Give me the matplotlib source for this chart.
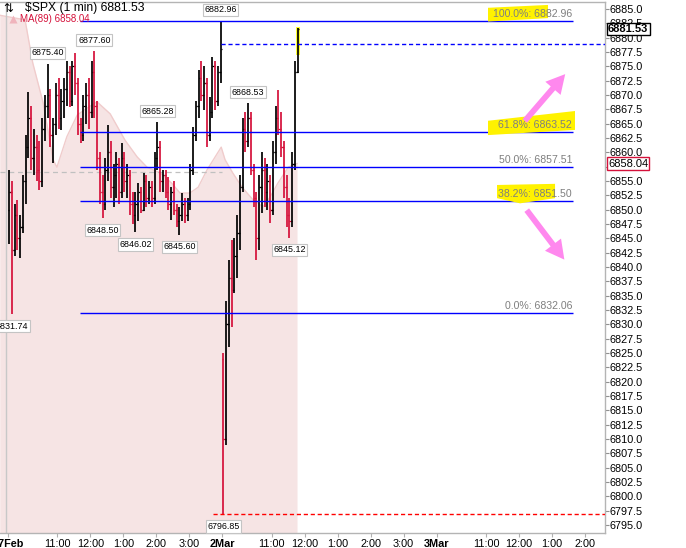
import matplotlib
matplotlib.use("Agg")
import matplotlib.pyplot as plt
import matplotlib.transforms as mtransforms
import pandas as pd
from matplotlib.patches import Rectangle, FancyArrowPatch

plt.rcParams['font.family'] = ['Liberation Sans', 'DejaVu Sans']

# ---------------- data (5-minute OHLC) ----------------
feb27_open = [6850, 6853, 6843, 6849, 6845, 6847, 6855, 6861, 6866, 6859,
              6861, 6857, 6855, 6864, 6868, 6870, 6863, 6865, 6870, 6866,
              6869, 6871, 6874, 6869, 6875, 6872, 6865, 6863, 6868, 6870,
              6867, 6874, 6868, 6859, 6853, 6851, 6857, 6860, 6854, 6856,
              6858, 6853, 6859, 6855, 6856, 6851, 6849, 6851, 6853, 6850,
              6855, 6852, 6854, 6852, 6859, 6861, 6855, 6856, 6853, 6851,
              6853, 6850, 6848, 6849, 6851, 6849, 6851, 6857, 6863, 6868,
              6873, 6870, 6872, 6863, 6867, 6875, 6869, 6874]
feb27_high = [6857, 6855, 6851, 6851.7, 6849, 6856, 6863, 6870.5, 6868, 6864,
              6863, 6862, 6866, 6870, 6875.40, 6871, 6866, 6872, 6873, 6871,
              6873, 6876, 6875, 6876, 6877.3, 6873, 6866, 6870, 6872, 6873,
              6876, 6877.60, 6869, 6860, 6856, 6859, 6864.8, 6862, 6858, 6860,
              6859, 6861.6, 6860, 6858, 6857, 6853, 6853, 6854.6, 6854, 6856.4,
              6856, 6855, 6855, 6860, 6865.28, 6862, 6857, 6857, 6855.7, 6854,
              6855, 6851, 6850.5, 6852.9, 6852, 6852, 6858, 6864.4, 6869, 6874.4,
              6876, 6875, 6873, 6869.6, 6876.6, 6876, 6875, 6882.96]
feb27_low = [6844, 6831.74, 6842, 6843, 6841.5, 6846, 6851, 6859, 6857, 6856,
             6855, 6853.4, 6854, 6862, 6866, 6861, 6858.1, 6863, 6864, 6863.9,
             6866, 6868, 6867.9, 6868, 6870, 6863, 6861.6, 6862, 6865, 6864,
             6866, 6866, 6857, 6851, 6848.50, 6850, 6855, 6852, 6850.5, 6852,
             6851, 6852, 6853, 6852, 6849, 6847.5, 6846.02, 6848, 6849.4, 6849.8,
             6850.5, 6851, 6850.5, 6851, 6857, 6853, 6853, 6852, 6850, 6848.2,
             6849, 6847, 6845.60, 6848, 6847.7, 6848, 6850, 6856, 6862, 6866,
             6869, 6867.4, 6861, 6862, 6866, 6867.4, 6868, 6872]
feb27_close = [6853, 6843, 6849, 6845, 6847, 6855, 6861, 6866, 6859, 6861,
               6857, 6855, 6864, 6868, 6870, 6863, 6865, 6870, 6866, 6869,
               6871, 6874, 6869, 6875, 6872, 6865, 6863, 6868, 6870, 6867,
               6874, 6868, 6859, 6853, 6851, 6857, 6860, 6854, 6856, 6858,
               6853, 6859, 6855, 6856, 6851, 6849, 6851, 6853, 6850, 6855,
               6852, 6854, 6852, 6859, 6861, 6855, 6856, 6853, 6851, 6853,
               6850, 6848, 6849, 6851, 6849, 6851, 6857, 6863, 6868, 6873,
               6870, 6872, 6863, 6867, 6875, 6869, 6874, 6878]

mar02_open = [6824, 6810, 6830, 6838, 6836, 6842, 6846, 6854, 6864, 6862,
              6866, 6857, 6852, 6845, 6854, 6857, 6853, 6855, 6850, 6860,
              6866, 6864, 6861, 6854, 6849, 6848, 6858, 6874]
mar02_high = [6825, 6834, 6841.2, 6844.7, 6845, 6849, 6856, 6866, 6867, 6868.53,
              6867, 6858, 6853, 6856, 6860, 6859, 6858, 6856, 6862, 6868,
              6870.9, 6867, 6862, 6856, 6852, 6860, 6876, 6881.6]
mar02_low = [6796.85, 6809, 6826, 6829.5, 6835.5, 6838, 6843, 6853, 6860, 6861,
             6856, 6850.5, 6841.2, 6843, 6849.4, 6850.5, 6850, 6847.7, 6849, 6858,
             6863, 6859.2, 6852, 6847, 6845.12, 6847, 6857, 6873.8]
mar02_close = [6810, 6830, 6838, 6836, 6842, 6846, 6854, 6864, 6862, 6866,
               6857, 6852, 6845, 6854, 6857, 6853, 6855, 6850, 6860, 6866,
               6864, 6861, 6854, 6849, 6848, 6858, 6874, 6881.53]

# MA(89) outline
ma_times = ["2026-02-27 09:15", "2026-02-27 10:01", "2026-02-27 10:15", "2026-02-27 10:34",
            "2026-02-27 10:52", "2026-02-27 10:59", "2026-02-27 11:17", "2026-02-27 11:36",
            "2026-02-27 11:54", "2026-02-27 12:12", "2026-02-27 12:36", "2026-02-27 13:03",
            "2026-02-27 13:25", "2026-02-27 13:43", "2026-02-27 14:07", "2026-02-27 14:28",
            "2026-02-27 14:43", "2026-02-27 15:01", "2026-02-27 15:16", "2026-02-27 15:32",
            "2026-02-27 15:47", "2026-02-27 15:58", "2026-03-02 09:35", "2026-03-02 09:49",
            "2026-03-02 10:06", "2026-03-02 10:26", "2026-03-02 10:44", "2026-03-02 10:57",
            "2026-03-02 11:11", "2026-03-02 11:30", "2026-03-02 11:46"]
ma_values = [6883.9, 6883.1, 6875.6, 6868.6, 6858.7, 6857.4, 6862.7, 6866.5,
             6867.7, 6868.8, 6866.7, 6862.1, 6859.2, 6857.4, 6856.4, 6854.6,
             6852.9, 6852.9, 6853.9, 6856.9, 6859.2, 6860.9, 6858.7, 6856.4,
             6853.9, 6851.7, 6850.5, 6852.2, 6854.6, 6857.4, 6858.04]

fib_pcts = [100.0, 61.8, 50.0, 38.2, 0.0]
fib_vals = [6882.96, 6863.52, 6857.51, 6851.50, 6832.06]

last_price = 6881.53
ma_last = 6858.04
prev_close_level = 6856.57
blue_dash_level = 6878.9
low_dash_level = 6796.85

high_labels = [6875.40, 6877.60, 6882.96, 6865.28, 6868.53]
low_labels = [6831.74, 6848.50, 6846.02, 6845.60, 6845.12, 6796.85]

tick_labels = ["27Feb", "11:00", "12:00", "1:00", "2:00", "3:00",
               "2Mar", "11:00", "12:00", "1:00", "2:00", "3:00",
               "3Mar", "11:00", "12:00", "1:00", "2:00"]
tick_times = ["2026-02-27 09:30", "2026-02-27 11:00", "2026-02-27 12:00", "2026-02-27 13:00",
              "2026-02-27 14:00", "2026-02-27 15:00", "2026-03-02 09:30", "2026-03-02 11:00",
              "2026-03-02 12:00", "2026-03-02 13:00", "2026-03-02 14:00", "2026-03-02 15:00",
              "2026-03-03 09:30", "2026-03-03 11:00", "2026-03-03 12:00", "2026-03-03 13:00",
              "2026-03-03 14:00"]

# ---------------- trading-time axis ----------------
DAYS = {"2026-02-27": 0, "2026-03-02": 1, "2026-03-03": 2}


def tm(s):
    ts = pd.Timestamp(s)
    d = DAYS[ts.strftime("%Y-%m-%d")]
    return d * 390 + (ts.hour * 60 + ts.minute - 570)


feb27_t = [tm(t) + 2 for t in pd.date_range("2026-02-27 09:30", periods=len(feb27_open), freq="5min")]
mar02_t = [tm(t) + 2 for t in pd.date_range("2026-03-02 09:30", periods=len(mar02_open), freq="5min")]

T = feb27_t + mar02_t
O = feb27_open + mar02_open
H = feb27_high + mar02_high
L = feb27_low + mar02_low
C = feb27_close + mar02_close

UP = "#000000"
DN = "#d5113a"

fig = plt.figure(figsize=(6.86, 5.48), dpi=100)
ax = fig.add_axes([0, 15 / 548, 605 / 686, 531 / 548])
X0, X1 = -14.56, 1086.4
Y0, Y1 = 6793.61, 6886.21
ax.set_xlim(X0, X1)
ax.set_ylim(Y0, Y1)

# MA(89) shaded area
ma_x = [tm(t) for t in ma_times]
ax.fill_between(ma_x, ma_values, Y0, color="#f6e4e4", lw=0, zorder=0)
ax.plot(ma_x, ma_values, color="#f0cccc", lw=1, zorder=0.5)

# day separator at left
ax.axvline(-3.6, color="#c8c8c8", lw=1, zorder=0.6)

# previous close dashed line
ax.hlines(prev_close_level, X0, tm("2026-03-02 09:30"), colors="#c0c0c0",
          linestyles=(0, (4, 3)), lw=0.9, zorder=0.7)

# current bar highlight
ax.add_patch(Rectangle((T[-1] - 2.5, 6876.9), 7.0, 4.9, color="#ffff30", lw=0, zorder=2.5))

# OHLC bars
hw = 2.6
for t, o, h, l, c in zip(T, O, H, L, C):
    col = UP if c >= o else DN
    ax.vlines(t, l, h, colors=col, lw=1.25, zorder=3)
    ax.hlines(o, t - hw, t, colors=col, lw=0.9, zorder=3)
    ax.hlines(c, t, t + hw, colors=col, lw=0.9, zorder=3)

# fib lines and labels
fib_x0 = tm("2026-02-27 11:41")
fib_x1 = tm("2026-03-03 13:38")
for pct, v in zip(fib_pcts, fib_vals):
    ax.hlines(v, fib_x0, fib_x1, colors="#0000ff", lw=1, zorder=4)
    ax.annotate(f"{pct:.1f}%: {v:.2f}", xy=(fib_x1 - 1.5, v), xytext=(0, 2),
                textcoords="offset pixels", ha="right", va="bottom",
                fontsize=7.6, color="#7f7f7f", zorder=6)

# yellow highlighter strokes (behind the text)
hl = "#fff200"
ax.fill([873.5, 982.7, 982.7, 873.5], [6885.2, 6885.7, 6883.4, 6882.8], color=hl, lw=0, zorder=5)
ax.fill([873.5, 1031.8, 1031.8, 873.5], [6865.5, 6867.2, 6863.9, 6863.0], color=hl, lw=0, zorder=5)
ax.fill([889.9, 995.5, 995.5, 931.8, 889.9], [6854.3, 6854.5, 6852.0, 6851.1, 6852.0], color=hl, lw=0, zorder=5)

# other horizontal dashed lines
ax.hlines(blue_dash_level, tm("2026-02-27 15:58"), X1, colors="#0000ff",
          linestyles=(0, (3, 2)), lw=1, zorder=4)
ax.hlines(low_dash_level, tm("2026-02-27 15:43"), X1, colors="#ff0000",
          linestyles=(0, (3, 2)), lw=1, zorder=4)

# high / low callouts
box = dict(boxstyle="square,pad=0.18", fc="white", ec="#c4c4c4", lw=0.8)
for v in high_labels:
    i = H.index(v)
    ax.annotate(f"{v:.2f}", xy=(T[i], v), xytext=(0, 11), textcoords="offset pixels",
                ha="center", va="center", fontsize=6.4, bbox=box, zorder=8,
                annotation_clip=False)
for v in low_labels:
    i = L.index(v)
    ax.annotate(f"{v:.2f}", xy=(T[i], v), xytext=(0, -12), textcoords="offset pixels",
                ha="center", va="center", fontsize=6.4, bbox=box, zorder=8,
                annotation_clip=False)

# pink arrows
pink = "#ff88ee"
for (x0, y0), (x1, y1) in [((937.2, 6865.1), (1017.3, 6874.0)),
                           ((940.9, 6850.3), (1015.5, 6840.9))]:
    arr = FancyArrowPatch((x0, y0), (x1, y1),
                          arrowstyle="simple,head_length=1.35,head_width=1.45,tail_width=0.42",
                          mutation_scale=10, color=pink, lw=0, zorder=7)
    ax.add_patch(arr)

# header texts
ax.text(3 / 605, 1 - 6.5 / 531, "⇅", transform=ax.transAxes, fontsize=8.5,
        family="DejaVu Sans", ha="left", va="center", zorder=9)
ax.text(25 / 605, 1 - 6.5 / 531, r"\$SPX (1 min) " + f"{last_price:.2f}",
        transform=ax.transAxes, fontsize=8.7, ha="left", va="center", zorder=9)
ax.plot([12.5 / 605], [1 - 16.5 / 531], marker="^", ms=6, color="#f0b4bc",
        mec="none", transform=ax.transAxes, zorder=9, clip_on=False)
ax.text(20 / 605, 1 - 17 / 531, f"MA(89) {ma_last:.2f}", transform=ax.transAxes,
        fontsize=7.0, color="#d5113a", ha="left", va="center", zorder=9)

# axes styling
ax.spines["left"].set_visible(False)
for s in ["top", "right", "bottom"]:
    ax.spines[s].set_color("#b4b4b4")
    ax.spines[s].set_linewidth(1)

ax.yaxis.tick_right()
yt = [6795.0 + 2.5 * k for k in range(37)]
ax.set_yticks(yt)
ax.set_yticklabels([f"{v:.1f}" for v in yt])
ax.tick_params(axis="y", length=3, pad=0.5, labelsize=7.8, color="#909090")

ax.set_xticks([tm(t) for t in tick_times])
ax.set_xticklabels(tick_labels)
for lab in ax.get_xticklabels():
    if "Mar" in lab.get_text() or "Feb" in lab.get_text():
        lab.set_fontweight("bold")
ax.tick_params(axis="x", length=3, pad=1.5, labelsize=7.8, color="#b0b0b0")

# right-axis markers
blend = mtransforms.blended_transform_factory(ax.transAxes, ax.transData)
ax.annotate(f"{last_price:.2f}", xy=(1, last_price), xycoords=blend, xytext=(3, 0),
            textcoords="offset pixels", ha="left", va="center", fontsize=8,
            fontweight="bold", bbox=dict(boxstyle="square,pad=0.12", fc="white", ec="black", lw=1),
            annotation_clip=False, zorder=10)
ax.annotate(f"{ma_last:.2f}", xy=(1, ma_last), xycoords=blend, xytext=(3, 0),
            textcoords="offset pixels", ha="left", va="center", fontsize=8,
            bbox=dict(boxstyle="square,pad=0.12", fc="white", ec="#d5113a", lw=1),
            annotation_clip=False, zorder=10)

fig.savefig("out.png", dpi=100)
